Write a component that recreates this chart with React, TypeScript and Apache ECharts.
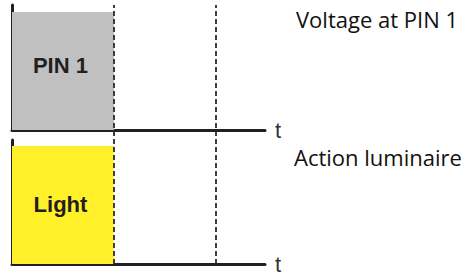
import React, { useEffect, useRef } from "react";
import * as echarts from "echarts";

const signalNames = ["PIN 1", "Light"];
const captions = ["Voltage at PIN 1", "Action luminaire"];
const fillColors = ["#c0c0c0", "#fff02a"];
const pin1Wave: [number, number][] = [[0, 1], [2, 1]];
const lightWave: [number, number][] = [[0, 1], [2, 1]];
const markerTimes = [2, 4];
const timeMax = 4.96;
const axisName = "t";

export default function App() {
  const ref = useRef<HTMLDivElement>(null);
  useEffect(() => {
    if (!ref.current) return;
    const chart = echarts.init(ref.current, null, { renderer: "svg" });
    const axisLine = { show: true, lineStyle: { color: "#231f20", width: 3 } };
    const hiddenX = (gridIndex: number) => ({
      type: "value" as const,
      gridIndex,
      min: 0,
      max: timeMax,
      axisLine: gridIndex === 2 ? { show: false } : axisLine,
      axisTick: { show: false },
      axisLabel: { show: false },
      splitLine: { show: false },
      name: gridIndex === 2 ? "" : axisName,
      nameLocation: "end" as const,
      nameGap: 10,
      nameTextStyle: {
        fontSize: 22,
        color: "#333",
        fontFamily: "Liberation Sans",
        verticalAlign: "middle" as const,
      },
    });
    const yAx = (gridIndex: number, max: number, show: boolean) => ({
      type: "value" as const,
      gridIndex,
      min: 0,
      max,
      axisLine: show ? axisLine : { show: false },
      axisTick: { show: false },
      axisLabel: { show: false },
      splitLine: { show: false },
    });
    const labelY = [0.55, 0.5];
    const waveSeries = (idx: number, data: [number, number][]) => ({
      type: "line" as const,
      xAxisIndex: idx,
      yAxisIndex: idx,
      data,
      symbol: "none",
      lineStyle: { width: 0 },
      areaStyle: { color: fillColors[idx], opacity: 1 },
      z: 1,
      markPoint: {
        symbol: "rect",
        symbolSize: 0,
        data: [{ coord: [0.95, labelY[idx]], value: signalNames[idx] }],
        label: {
          show: true,
          position: "inside",
          formatter: signalNames[idx],
          fontSize: 22,
          fontWeight: "bold",
          color: "#231f20",
          fontFamily: "Liberation Sans",
        },
      },
    });
    const captionStyle = { fontSize: 22, fontWeight: "normal" as const, color: "#111", fontFamily: "Open Sans" };
    chart.setOption({
      animation: false,
      grid: [
        { left: 12, top: 5, width: 253, height: 125 },
        { left: 12, top: 140, width: 253, height: 124 },
        { left: 12, top: 5, width: 253, height: 259 },
      ],
      xAxis: [hiddenX(0), hiddenX(1), hiddenX(2)],
      yAxis: [yAx(0, 1.06, true), yAx(1, 1.05, true), yAx(2, 1, false)],
      title: [
        { text: captions[0], left: 291, top: 3, textStyle: captionStyle },
        { text: captions[1], left: 289, top: 141, textStyle: captionStyle },
      ],
      series: [
        waveSeries(0, pin1Wave),
        waveSeries(1, lightWave),
        {
          type: "line",
          xAxisIndex: 2,
          yAxisIndex: 2,
          data: [],
          markLine: {
            symbol: "none",
            silent: true,
            label: { show: false },
            lineStyle: { color: "#2a2a2a", width: 1.8, type: [5, 3] },
            data: markerTimes.map((t) => ({ xAxis: t })),
          },
          z: 5,
        },
      ],
    });
    return () => chart.dispose();
  }, []);
  return <div ref={ref} style={{ width: 472, height: 275, position: "absolute", left: 0, top: 0 }} />;
}
